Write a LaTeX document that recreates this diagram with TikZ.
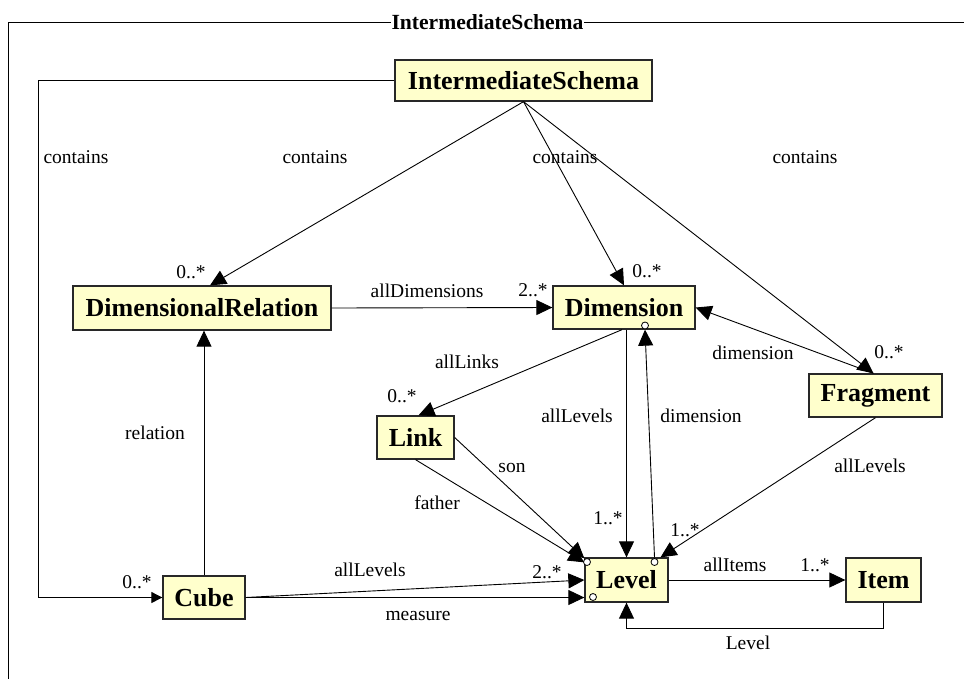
\documentclass[tikz,border=0pt]{standalone}
\usepackage{fontspec}
\setmainfont{Liberation Serif}
\usetikzlibrary{arrows.meta,calc}

\definecolor{classfill}{RGB}{255,255,204}
\definecolor{classline}{RGB}{40,40,40}

\tikzset{
  classbox/.style={draw=classline, line width=1.3pt, fill=classfill, inner sep=0pt,
    font=\fontsize{26}{28}\selectfont\bfseries, text=black},
  rolelabel/.style={font=\fontsize{19.5}{21}\selectfont, inner sep=0pt, text=black},
  assoc/.style={draw=black, line width=0.9pt, -{Triangle[length=16pt,width=15pt]}},
  smallassoc/.style={draw=black, line width=0.9pt, -{Triangle[length=11pt,width=11pt]}},
  endmark/.style={circle, draw=black, line width=0.8pt, fill=white, minimum size=7pt, inner sep=0pt},
  frameline/.style={draw=black, line width=1pt}
}

\begin{document}
\begin{tikzpicture}[x=1pt,y=-1pt]
\useasboundingbox (0,0) rectangle (964,678);
\clip (0,0) rectangle (964,678);
\fill[white] (0,0) rectangle (964,678);

% package frame with its title
\draw[frameline] (8,700) -- (8,22) -- (990,22);
\node[fill=white, inner xsep=1pt, inner ysep=0pt, font=\fontsize{21.6}{23}\selectfont\bfseries] (frametitle) at (487.5,22) {IntermediateSchema};

% classes
\node[classbox, minimum width=257pt, minimum height=41pt] (is)    at (523.5,80.5) {IntermediateSchema};
\node[classbox, minimum width=258pt, minimum height=44pt] (dr)    at (202,308)    {DimensionalRelation};
\node[classbox, minimum width=142pt, minimum height=43pt] (dim)   at (624,307.5)  {Dimension};
\node[classbox, minimum width=133pt, minimum height=43pt] (fr)    at (875.5,395.5){Fragment};
\node[classbox, minimum width=77pt,  minimum height=43pt] (link)  at (415.5,437.5){Link};
\node[classbox, minimum width=83pt,  minimum height=44pt] (level) at (626.5,580)  {Level};
\node[classbox, minimum width=82pt,  minimum height=43pt] (cube)  at (204,597.5)  {Cube};
\node[classbox, minimum width=75pt,  minimum height=44pt] (item)  at (883.5,580)  {Item};

% routing points
\coordinate (leftrail) at (38,80);
\coordinate (bottomrail) at (700,628);

% containment associations
\draw[assoc] (is.south) -- ([xshift=8pt]dr.north);
\draw[assoc] (is.south) -- (dim.north);
\draw[assoc] (is.south) -- ([xshift=-2pt]fr.north);
\draw[smallassoc] (is.west) -- (is.west -| leftrail) |- (cube.west);

% other associations
\draw[assoc] (dr.east) -- (dim.west);
\draw[assoc] ([xshift=-2pt]fr.north) -- (dim.east);
\draw[assoc] ([xshift=-2pt]dim.south) -- ([xshift=3pt]link.north);
\draw[assoc] (level.north |- dim.south) -- (level.north);
\draw[assoc] ([xshift=28pt]level.north) -- ([xshift=21pt]dim.south);
\draw[assoc] (fr.south) -- ([xshift=34pt]level.north);
\draw[assoc] (link.east) -- ([yshift=-1pt]level.north west);
\draw[assoc] (link.south) -- ([yshift=-5pt]level.north west);
\draw[assoc] (cube.east) -- (level.west);
\draw[assoc] (cube.east) -- (level.west |- cube.east);
\draw[assoc] (cube.north) -- (cube.north |- dr.south);
\draw[assoc] (level.east) -- (item.west);
\draw[assoc] (item.south) -- (item.south |- bottomrail) -| (level.south);

% end markers
\node[endmark] (mdim)  at (645,325.5) {};
\node[endmark] (mltl)  at (587,562) {};
\node[endmark] (mltr)  at (654.5,562) {};
\node[endmark] (mlbl)  at (593,597) {};

% role names and multiplicities
\node[rolelabel] (l1)  at (76,157)  {contains};
\node[rolelabel] (l2)  at (315,157) {contains};
\node[rolelabel] (l3)  at (565,157) {contains};
\node[rolelabel] (l4)  at (805,157) {contains};
\node[rolelabel] (m1)  at (191,272) {0..*};
\node[rolelabel] (l5)  at (427,291) {allDimensions};
\node[rolelabel] (m2)  at (533,290) {2..*};
\node[rolelabel] (m3)  at (647,271) {0..*};
\node[rolelabel] (l6)  at (753,353) {dimension};
\node[rolelabel] (m4)  at (889,352) {0..*};
\node[rolelabel] (l7)  at (467,362) {allLinks};
\node[rolelabel] (m5)  at (402,396) {0..*};
\node[rolelabel] (l8)  at (577,416) {allLevels};
\node[rolelabel] (l9)  at (701,416) {dimension};
\node[rolelabel] (l10) at (870,466) {allLevels};
\node[rolelabel] (l11) at (155,433) {relation};
\node[rolelabel] (l12) at (512,468) {son};
\node[rolelabel] (l13) at (437,503) {father};
\node[rolelabel] (m6)  at (608,518) {1..*};
\node[rolelabel] (m7)  at (685,530) {1..*};
\node[rolelabel] (l14) at (370,570) {allLevels};
\node[rolelabel] (m8)  at (547,572) {2..*};
\node[rolelabel] (m9)  at (137,582) {0..*};
\node[rolelabel] (l15) at (418,616) {measure};
\node[rolelabel] (l16) at (735,565) {allItems};
\node[rolelabel] (m10) at (815,565) {1..*};
\node[rolelabel] (l17) at (748,643) {Level};
\end{tikzpicture}
\end{document}
